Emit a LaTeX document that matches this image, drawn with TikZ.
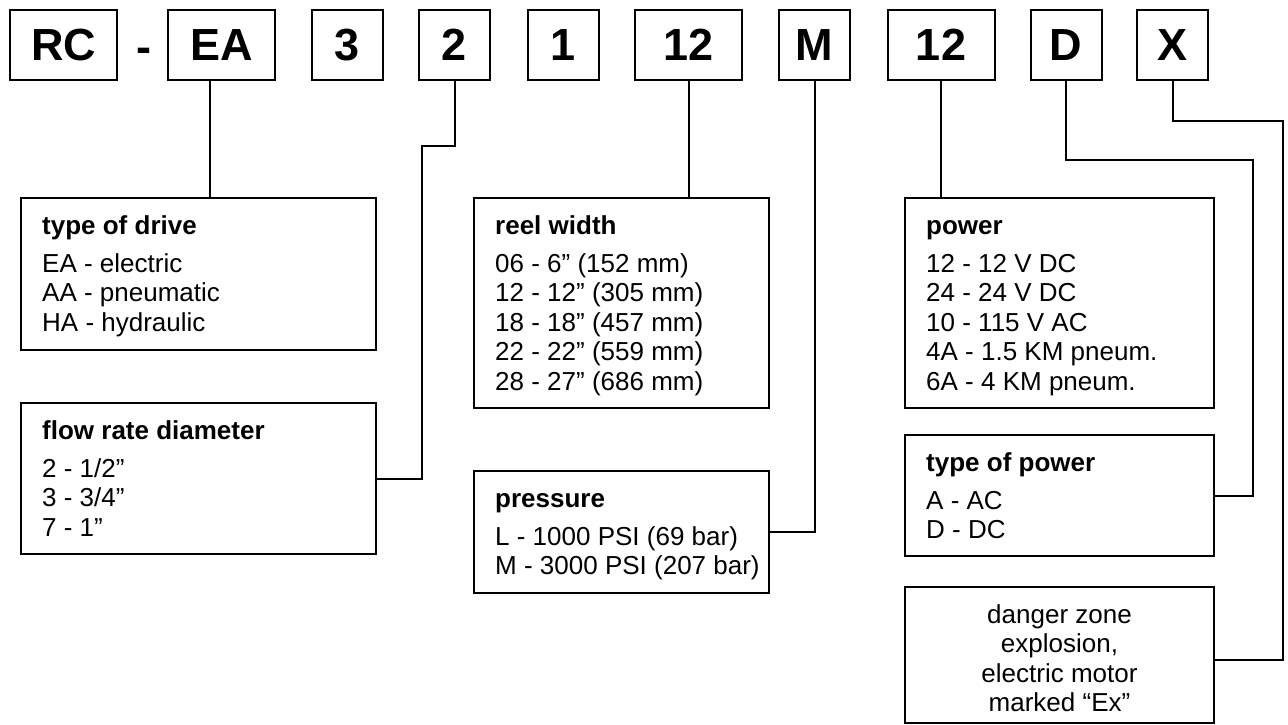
\documentclass[tikz,border=0pt]{standalone}
\usepackage{fontspec}
\setmainfont{Liberation Sans}
\newcommand\codefont{\fontsize{45}{50}\selectfont\bfseries}
\newcommand\descfont{\fontsize{26}{29.5}\selectfont}
\newcommand\ttl[1]{\rule{0pt}{20pt}\textbf{#1}}
\tikzset{
  code/.style={draw, line width=2pt, minimum height=70pt, inner sep=0pt, font=\codefont},
  wide/.style={code, minimum width=107pt},
  narrow/.style={code, minimum width=71pt},
  frame/.style={draw, line width=2pt, anchor=north west, inner sep=0pt},
  desc/.style={anchor=north west, inner sep=0pt, align=left, font=\descfont},
  link/.style={line width=2pt}
}
\begin{document}
\begin{tikzpicture}[x=1pt, y=-1pt]
      \useasboundingbox (0,0) rectangle (1288,724);
      % code boxes
      \node[wide] (rc) at (63.5,45) {RC};
      \node[anchor=base, font=\codefont] (dash) at (144,62) {-};
      \node[wide] (ea) at (221.5,45) {EA};
      \node[narrow] (c3) at (347.5,45) {3};
      \node[narrow] (c2) at (454.5,45) {2};
      \node[narrow] (c1) at (563.5,45) {1};
      \node[wide] (w12) at (688.5,45) {12};
      \node[narrow] (pm) at (814.5,45) {M};
      \node[wide] (p12) at (941,45) {12};
      \node[narrow] (td) at (1066,45) {D};
      \node[narrow] (tx) at (1172.5,45) {X};
      % description boxes
      \node[frame, minimum width=355pt, minimum height=152pt] (drive) at (20,197) {};
      \node[frame, minimum width=355pt, minimum height=151pt] (flow) at (20,402) {};
      \node[frame, minimum width=295pt, minimum height=210pt] (reel) at (473,197) {};
      \node[frame, minimum width=295pt, minimum height=122pt] (pressure) at (473,470) {};
      \node[frame, minimum width=309pt, minimum height=210pt] (power) at (904,197) {};
      \node[frame, minimum width=309pt, minimum height=121pt] (ptype) at (904,434) {};
      \node[frame, minimum width=309pt, minimum height=136pt] (danger) at (904,586) {};
      \node[desc] (drive-t) at ([xshift=22pt, yshift=-17pt]drive.north west)
        {\ttl{type of drive}\\[8.5pt]EA - electric\\AA - pneumatic\\HA - hydraulic};
      \node[desc] (flow-t) at ([xshift=22pt, yshift=-17pt]flow.north west)
        {\ttl{flow rate diameter}\\[8.5pt]2 - 1/2”\\3 - 3/4”\\7 - 1”};
      \node[desc] (reel-t) at ([xshift=22pt, yshift=-17pt]reel.north west)
        {\ttl{reel width}\\[8.5pt]06 - 6” (152 mm)\\12 - 12” (305 mm)\\18 - 18” (457 mm)\\22 - 22” (559 mm)\\28 - 27” (686 mm)};
      \node[desc] (pressure-t) at ([xshift=22pt, yshift=-17pt]pressure.north west)
        {\ttl{pressure}\\[8.5pt]L - 1000 PSI (69 bar)\\M - 3000 PSI (207 bar)};
      \node[desc] (power-t) at ([xshift=22pt, yshift=-17pt]power.north west)
        {\ttl{power}\\[8.5pt]12 - 12 V DC\\24 - 24 V DC\\10 - 115 V AC\\4A - 1.5 KM pneum.\\6A - 4 KM pneum.};
      \node[desc] (ptype-t) at ([xshift=22pt, yshift=-17pt]ptype.north west)
        {\ttl{type of power}\\[8.5pt]A - AC\\D - DC};
      \node[desc, anchor=north, align=center] (danger-t) at ([yshift=-17pt]danger.north)
        {\rule{0pt}{20pt}danger zone\\explosion,\\electric motor\\marked “Ex”};
      % connectors
      \coordinate (jog2) at (422,146);
      \coordinate (jogD) at (1253,160);
      \coordinate (jogX) at (1283,121);
      \begin{scope}[link]
        \draw ([xshift=-12pt]ea.south) -- ([xshift=-12pt]ea.south |- drive.north);
        \draw (c2.south) |- (jog2) |- (flow.east);
        \draw (w12.south) -- (w12.south |- reel.north);
        \draw (pm.south) |- (pressure.east);
        \draw (p12.south) -- (p12.south |- power.north);
        \draw (td.south) |- (jogD) |- (ptype.east);
        \draw (tx.south) |- (jogX) |- (danger.east |- 0,660);
      \end{scope}
    \end{tikzpicture}
\end{document}
